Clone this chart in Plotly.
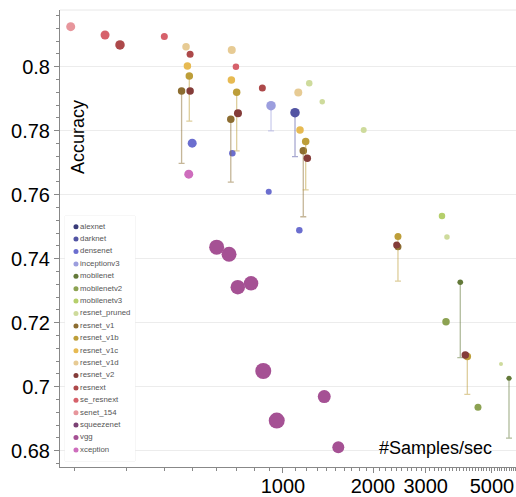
import plotly.graph_objects as go

# ---------------- data ----------------
categories = ["alexnet", "darknet", "densenet", "inceptionv3", "mobilenet", "mobilenetv2",
              "mobilenetv3", "resnet_pruned", "resnet_v1", "resnet_v1b", "resnet_v1c",
              "resnet_v1d", "resnet_v2", "resnext", "se_resnext", "senet_154",
              "squeezenet", "vgg", "xception"]

point_model = ["senet_154", "se_resnext", "resnext", "se_resnext", "resnet_v1d", "resnext",
               "resnet_v1c", "resnet_v1b", "resnet_v1", "resnet_v2", "densenet", "xception",
               "resnet_v1d", "se_resnext", "resnet_v1c", "resnet_v1b", "resnet_v1", "resnet_v2",
               "densenet", "resnext", "inceptionv3", "resnet_v1d", "resnet_pruned", "resnet_pruned",
               "darknet", "resnet_v1c", "resnet_v1b", "resnet_v1", "resnet_v2", "resnet_pruned",
               "densenet", "densenet", "resnet_v1b", "resnet_v2", "resnet_v1", "mobilenetv3",
               "resnet_pruned", "mobilenet", "mobilenetv2", "resnet_v2", "resnet_v1b",
               "resnet_pruned", "mobilenet", "mobilenetv2",
               "vgg", "vgg", "vgg", "vgg", "vgg", "vgg", "vgg", "vgg"]

samples_per_sec = [195, 254, 285, 401, 474, 489,
                   479, 486, 458, 489, 497, 484,
                   674, 696, 672, 700, 669, 707,
                   677, 853, 912, 1125, 1224, 1353,
                   1097, 1140, 1191, 1169, 1206, 1862,
                   896, 1134, 2424, 2400, 2424, 3402,
                   3535, 3917, 3509, 4071, 4135,
                   5360, 5700, 4489,
                   600, 660, 706, 782, 859, 1374, 953, 1531]

accuracy = [0.8125, 0.8099, 0.8068, 0.8094, 0.8062, 0.8039,
            0.8002, 0.7971, 0.7924, 0.7924, 0.7761, 0.7664,
            0.8052, 0.8000, 0.7958, 0.7920, 0.7836, 0.7854,
            0.7729, 0.7933, 0.7878, 0.7919, 0.7948, 0.7890,
            0.7856, 0.7802, 0.7766, 0.7737, 0.7714, 0.7802,
            0.7609, 0.7489, 0.7469, 0.7443, 0.7437, 0.7533,
            0.7468, 0.7326, 0.7203, 0.7099, 0.7094,
            0.7071, 0.7026, 0.6936,
            0.7436, 0.7414, 0.7311, 0.7323, 0.7049, 0.6969, 0.6894, 0.6811]

accuracy_drop = [0, 0, 0, 0, 0, 0,
                 0, 0.0141, 0.0226, 0, 0, 0,
                 0, 0, 0, 0.0183, 0.0197, 0,
                 0, 0, 0.0079, 0, 0, 0,
                 0.0137, 0, 0.0151, 0.0206, 0, 0,
                 0, 0, 0.0139, 0, 0, 0,
                 0, 0.0235, 0, 0, 0.0118,
                 0, 0.0187, 0,
                 0, 0, 0, 0, 0, 0, 0, 0]

model_scale = [9, 9, 9.5, 7, 7.5, 7,
               7.5, 7.5, 7.5, 7.5, 9, 9,
               8, 6.5, 7.5, 7.5, 7.5, 8,
               6.5, 7, 9.5, 8, 6.5, 5.5,
               9.5, 7.5, 7.5, 7.5, 7.5, 6,
               6, 6.5, 7, 7, 7, 6.5,
               5.5, 5.5, 7.5, 7.5, 7.5,
               4, 5, 7,
               15, 15, 14.5, 14.5, 16, 13, 16, 12]

x_tick_vals = [1000, 2000, 3000, 5000]
x_tick_text = ["1000", "2000", "3000", "5000"]
y_tick_vals = [0.68, 0.70, 0.72, 0.74, 0.76, 0.78, 0.80]

# ---------------- style ----------------
palette = ["#393b79", "#5254a3", "#6b6ecf", "#9c9ede", "#637939", "#8ca252", "#b5cf6b",
           "#cedb9c", "#8c6d31", "#bd9e39", "#e7ba52", "#e7cb94", "#843c39", "#ad494a",
           "#d6616b", "#e7969c", "#7b4173", "#a55194", "#ce6dbd"]
color_of = dict(zip(categories, palette))


def rgba(hex_color, a):
    h = hex_color.lstrip("#")
    return "rgba(%d,%d,%d,%.2f)" % (int(h[0:2], 16), int(h[2:4], 16), int(h[4:6], 16), a)


FONT = "Liberation Sans, Arial, Helvetica, sans-serif"
W, H = 516, 497
ML, MR, MT, MB = 60, 0, 10, 30
PW, PH = W - ML - MR, H - MT - MB


def px_to_paper(px, py):
    return (px - ML) / PW, (H - MB - py) / PH


fig = go.Figure()

for cat in categories:
    idx = [i for i, m in enumerate(point_model) if m == cat]
    if not idx:
        continue
    xs = [samples_per_sec[i] for i in idx]
    ys = [accuracy[i] for i in idx]
    em = [accuracy_drop[i] for i in idx]
    sz = [model_scale[i] for i in idx]
    has_err = any(e > 0 for e in em)
    tr = dict(
        x=xs, y=ys, mode="markers", name=cat, showlegend=False,
        marker=dict(color=color_of[cat], size=sz, opacity=1, line=dict(width=0)),
        xaxis="x", yaxis="y",
    )
    if has_err:
        tr["error_y"] = dict(type="data", symmetric=False, array=[0] * len(em),
                             arrayminus=em, color=rgba(color_of[cat], 0.5),
                             thickness=1.3, width=3)
    fig.add_trace(go.Scatter(**tr))

# compact legend (bokeh-like), built from the categories list
n = len(categories)
fig.add_trace(go.Scatter(
    x=[0.157] * n, y=[-i for i in range(n)], mode="markers+text",
    text=categories, textposition="middle right",
    textfont=dict(family=FONT, size=7.8, color="#555555"),
    marker=dict(color=palette, size=5, opacity=1), showlegend=False, hoverinfo="skip",
    xaxis="x2", yaxis="y2", cliponaxis=False,
))

lx0, ly0 = px_to_paper(65, 461)
lx1, ly1 = px_to_paper(135, 216)
ax_x, ax_y = px_to_paper(78, 137)
sx_x, sx_y = px_to_paper(435, 448)

fig.update_layout(
    width=W, height=H,
    margin=dict(l=ML, r=MR, t=MT, b=MB),
    paper_bgcolor="white", plot_bgcolor="white",
    showlegend=False,
    font=dict(family=FONT, color="black"),
    xaxis=dict(
        type="log", range=[2.2542, 3.7793], automargin=False,
        tickvals=x_tick_vals, ticktext=x_tick_text,
        tickfont=dict(size=20, family=FONT, color="black"),
        ticks="outside", ticklen=5, tickcolor="#888888", tickwidth=1,
        ticklabelstandoff=-4,
        showline=True, linecolor="#888888", linewidth=1,
        showgrid=False, zeroline=False,
        minor=dict(ticks="outside", ticklen=3, tickcolor="#888888",
                   tickvals=[v for v in range(200, 6100, 100) if v not in x_tick_vals],
                   showgrid=False),
    ),
    yaxis=dict(
        range=[0.6749, 0.8177], automargin=False,
        tickvals=y_tick_vals,
        tickfont=dict(size=20, family=FONT, color="black"),
        ticks="outside", ticklen=5, tickcolor="#888888", tickwidth=1,
        showline=True, linecolor="#888888", linewidth=1,
        showgrid=True, gridcolor="#ececec", gridwidth=1, zeroline=False,
        minor=dict(ticks="outside", ticklen=3, tickcolor="#888888", dtick=0.004,
                   tick0=0.68, showgrid=False),
    ),
    xaxis2=dict(domain=[lx0, lx1], range=[0, 1], visible=False, anchor="y2",
                fixedrange=True, automargin=False),
    yaxis2=dict(domain=[ly0, ly1], range=[-18.895, 0.863], visible=False,
                anchor="x2", fixedrange=True, automargin=False),
    shapes=[
        dict(type="rect", xref="paper", yref="paper", x0=lx0, x1=lx1, y0=ly0, y1=ly1,
             line=dict(color="#eeeeee", width=1), fillcolor="white", layer="between"),
        dict(type="line", xref="paper", yref="paper", x0=0, x1=1, y0=1, y1=1,
             line=dict(color="#e8e8e8", width=1)),
    ],
    annotations=[
        dict(text="Accuracy", xref="paper", yref="paper", x=ax_x, y=ax_y,
             showarrow=False, textangle=-90, font=dict(size=18, family=FONT, color="black"),
             xanchor="center", yanchor="middle"),
        dict(text="#Samples/sec", xref="paper", yref="paper", x=sx_x, y=sx_y,
             showarrow=False, font=dict(size=18, family=FONT, color="black"),
             xanchor="center", yanchor="middle"),
    ],
)

fig.write_html("out.html",
               config={"displayModeBar": False},
               post_script="document.body.style.margin='0px';"
                           "document.body.style.overflow='hidden';")
